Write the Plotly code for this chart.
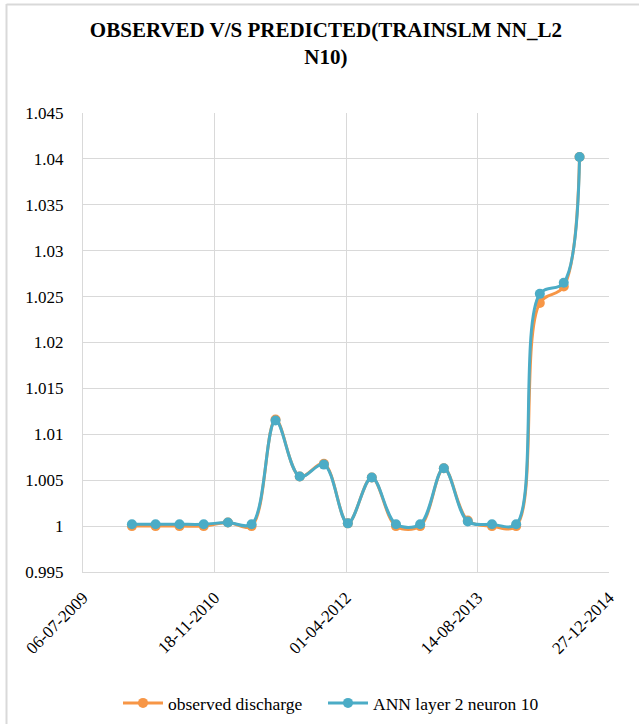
import plotly.graph_objects as go

dates = ["2010-01-08", "2010-04-08", "2010-07-08", "2010-10-08", "2011-01-08",
         "2011-04-08", "2011-07-08", "2011-10-08", "2012-01-08", "2012-04-08",
         "2012-07-08", "2012-10-08", "2013-01-08", "2013-04-08", "2013-07-08",
         "2013-10-08", "2014-01-08", "2014-04-08", "2014-07-08", "2014-09-06"]

observed = [1.0000, 1.0000, 1.0000, 1.0000, 1.0004, 1.0000, 1.0116, 1.0054, 1.0068, 1.0003,
            1.0053, 1.0000, 1.0000, 1.0063, 1.0006, 1.0000, 1.0000, 1.0243, 1.0261, 1.0402]
ann = [1.0002, 1.0002, 1.0002, 1.0002, 1.0004, 1.0002, 1.0115, 1.0054, 1.0067, 1.0003,
       1.0053, 1.0002, 1.0002, 1.0063, 1.0005, 1.0002, 1.0002, 1.0253, 1.0265, 1.0402]

x_tickvals = ["2009-07-06", "2010-11-18", "2012-04-01", "2013-08-14", "2014-12-27"]
x_ticktext = ["06-07-2009", "18-11-2010", "01-04-2012", "14-08-2013", "27-12-2014"]
y_tickvals = [0.995, 1.0, 1.005, 1.01, 1.015, 1.02, 1.025, 1.03, 1.035, 1.04, 1.045]
y_ticktext = ["0.995", "1", "1.005", "1.01", "1.015", "1.02", "1.025", "1.03", "1.035", "1.04", "1.045"]

FONT = "Liberation Serif, Times New Roman, serif"
ORANGE = "#F79646"
BLUE = "#4BACC6"
GRID = "#D9D9D9"

fig = go.Figure()
fig.add_trace(go.Scatter(x=dates, y=observed, name="observed discharge", mode="lines+markers",
                         line=dict(color=ORANGE, width=3, shape="spline", smoothing=1),
                         marker=dict(color=ORANGE, size=10), legend="legend"))
fig.add_trace(go.Scatter(x=dates, y=ann, name="ANN layer 2 neuron 10", mode="lines+markers",
                         line=dict(color=BLUE, width=3, shape="spline", smoothing=1),
                         marker=dict(color=BLUE, size=10), legend="legend2"))

W, H = 639, 724
L, R, T, B = 83, 30, 113, 152
pw, ph = W - L - R, H - T - B

def px(xp):
    return (xp - L) / pw

def py(yp):
    return (H - B - yp) / ph

legend_common = dict(orientation="h", xref="container", xanchor="left",
                     y=1 - 703 / H, yref="container", yanchor="middle",
                     font=dict(family=FONT, size=17.5, color="#000000"),
                     itemwidth=40, bgcolor="rgba(0,0,0,0)")

fig.update_layout(
    width=W, height=H,
    margin=dict(l=L, r=R, t=T, b=B),
    paper_bgcolor="white", plot_bgcolor="white",
    font=dict(family=FONT, size=17, color="#000000"),
    title=dict(text="<b>OBSERVED V/S PREDICTED(TRAINSLM NN_L2<br>N10)</b>",
               x=0.51, xref="container", xanchor="center", y=1 - 37 / H, yanchor="top",
               font=dict(family=FONT, size=21, color="#000000")),
    showlegend=True,
    legend=dict(x=(124 - 6) / W, **legend_common),
    legend2=dict(x=(329 - 6) / W, **legend_common),
    xaxis=dict(type="date", range=["2009-07-06", "2014-12-27"],
               tickmode="array", tickvals=x_tickvals, ticktext=x_ticktext,
               tickangle=-45, showgrid=True, gridcolor=GRID, gridwidth=1,
               showline=True, linecolor=GRID, linewidth=1, ticks="",
               ticklabelstandoff=8,
               zeroline=False, tickfont=dict(family=FONT, size=17)),
    yaxis=dict(range=[0.995, 1.045], tickmode="array", tickvals=y_tickvals, ticktext=y_ticktext,
               showgrid=True, gridcolor=GRID, gridwidth=1,
               showline=True, linecolor=GRID, linewidth=1, ticks="",
               ticklabelstandoff=15, zeroline=False, tickfont=dict(family=FONT, size=17)),
    shapes=[
        dict(type="line", xref="paper", yref="paper", x0=px(6.5), x1=px(6.5), y0=py(4), y1=py(H),
             line=dict(color=GRID, width=2)),
        dict(type="line", xref="paper", yref="paper", x0=px(6.5), x1=px(W), y0=py(4.5), y1=py(4.5),
             line=dict(color=GRID, width=2)),
    ],
)

fig.write_html("out.html")
